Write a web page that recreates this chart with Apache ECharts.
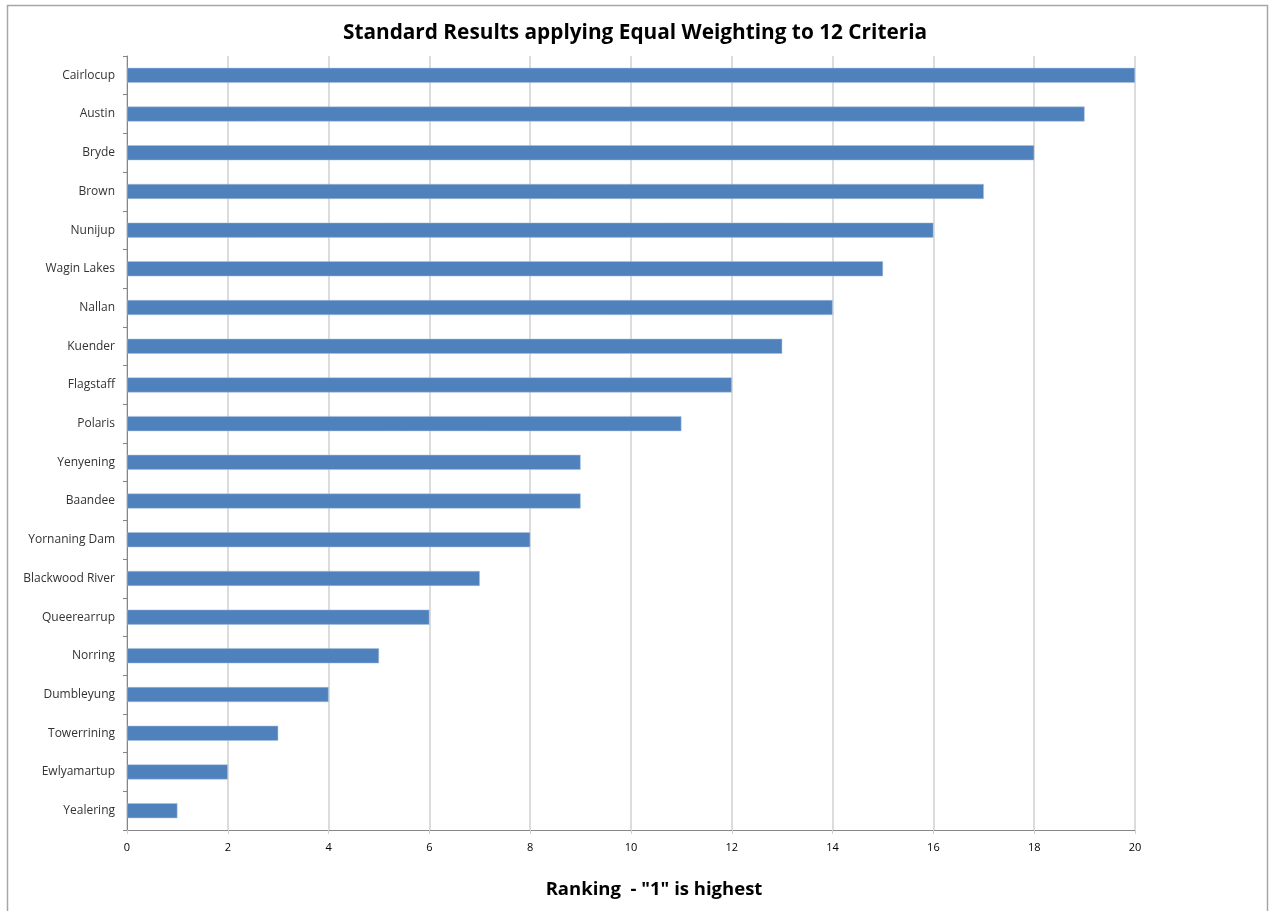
<!DOCTYPE html>
<html>
<head>
<meta charset="utf-8">
<script src="https://cdn.jsdelivr.net/npm/echarts@6/dist/echarts.min.js"></script>
<style>
  html, body { margin: 0; padding: 0; background: #fff; }
  #chart { width: 1270px; height: 911px; }
</style>
</head>
<body>
<div id="chart"></div>
<script>
// Sites, listed from top to bottom
const sites = [
  'Cairlocup', 'Austin', 'Bryde', 'Brown', 'Nunijup', 'Wagin Lakes', 'Nallan',
  'Kuender', 'Flagstaff', 'Polaris', 'Yenyening', 'Baandee', 'Yornaning Dam',
  'Blackwood River', 'Queerearrup', 'Norring', 'Dumbleyung', 'Towerrining',
  'Ewlyamartup', 'Yealering'
];
// Ranking score per site
const ranking = [20, 19, 18, 17, 16, 15, 14, 13, 12, 11, 9, 9, 8, 7, 6, 5, 4, 3, 2, 1];
// Value axis ticks
const xTicks = [0, 2, 4, 6, 8, 10, 12, 14, 16, 18, 20];

const chart = echarts.init(document.getElementById('chart'), null, { renderer: 'canvas' });
const fontFamily = '"Open Sans", "Liberation Sans", sans-serif';

chart.setOption({
  backgroundColor: '#ffffff',
  animation: false,
  title: {
    text: 'Standard Results applying Equal Weighting to 12 Criteria',
    left: 'center',
    top: 18,
    textStyle: { fontFamily, fontSize: 20.8, fontWeight: 'bold', color: '#000' }
  },
  graphic: [{
    type: 'rect',
    shape: { x: 7.5, y: 5.5, width: 1260, height: 920 },
    style: { fill: 'none', stroke: '#a6a6a6', lineWidth: 1.5 },
    silent: true
  }],
  grid: { left: 127, right: 135, top: 56, bottom: 81 },
  xAxis: {
    type: 'value',
    min: xTicks[0],
    max: xTicks[xTicks.length - 1],
    interval: 2,
    name: 'Ranking  - "1" is highest',
    nameLocation: 'middle',
    nameGap: 50,
    nameTextStyle: { fontFamily, fontSize: 18.5, fontWeight: 'bold', color: '#000', padding: [0, 0, 0, 46] },
    axisLine: { show: true, lineStyle: { color: '#868686', width: 1 } },
    axisTick: { show: true, length: 4, lineStyle: { color: '#d0d0d0' } },
    axisLabel: { fontFamily, fontSize: 11, color: '#000', margin: 12 },
    splitLine: { show: true, lineStyle: { color: '#d0d0d0', width: 1.5 } }
  },
  yAxis: {
    type: 'category',
    data: sites,
    inverse: true,
    axisLine: { show: true, lineStyle: { color: '#868686', width: 1 } },
    axisTick: { show: true, length: 4, lineStyle: { color: '#868686' } },
    axisLabel: { fontFamily, fontSize: 12, color: '#333', margin: 12 },
    splitLine: { show: false }
  },
  series: [{
    type: 'bar',
    data: ranking,
    barWidth: 15,
    itemStyle: { color: '#4f81bd', borderColor: '#a8c0df', borderWidth: 0.5 }
  }]
});
</script>
</body>
</html>
